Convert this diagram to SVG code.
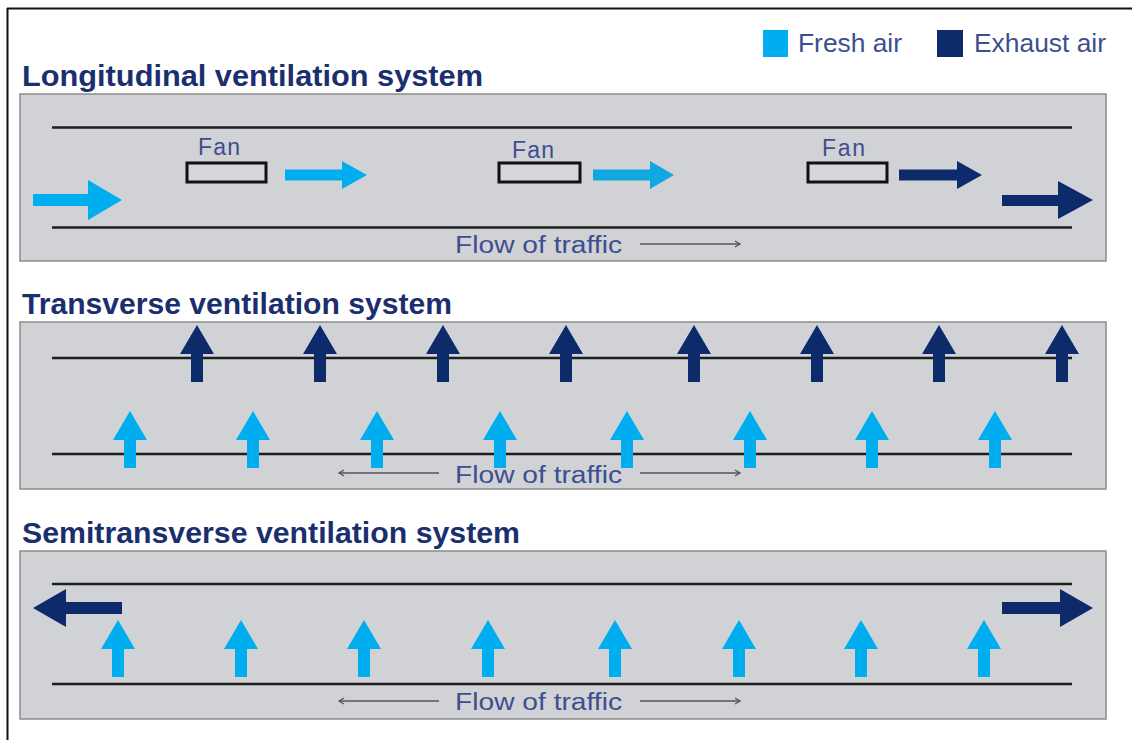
<svg xmlns="http://www.w3.org/2000/svg" xmlns:xlink="http://www.w3.org/1999/xlink" width="1132" height="740" viewBox="0 0 1132 740">
<style>
.title{font-family:"Liberation Sans",Arial,sans-serif;font-weight:bold;font-size:29px;fill:#1b2f6e}
.lbl{font-family:"Liberation Sans",Arial,sans-serif;font-size:23px;fill:#3d4f8e}
.leg{font-family:"Liberation Sans",Arial,sans-serif;font-size:26px;fill:#3d4f8e}
.panel{fill:#d1d2d6;stroke:#8c8c8c;stroke-width:1.5}
.road{stroke:#1e1e1e;stroke-width:2.5}
.fan{fill:#d6d7da;stroke:#111;stroke-width:3}
.flow{stroke:#555;stroke-width:1.5;fill:none}
.fresh{fill:#00aeef}
.fresh2{fill:#10a8de}
.exh{fill:#0d2a6b}
</style>
<defs>
<marker id="tip" markerWidth="8" markerHeight="8" refX="6" refY="4" orient="auto" markerUnits="userSpaceOnUse">
<path d="M1,1 L6,4 L1,7" fill="none" stroke="#555" stroke-width="1.3"/>
</marker>
<path id="up" d="M0,0 L17,29 L6,29 L6,57 L-6,57 L-6,29 L-17,29 Z"/>
</defs>
<rect x="0" y="0" width="1132" height="740" fill="#fff"/>
<g id="frame">
<line x1="7" y1="8.5" x2="1132" y2="8.5" stroke="#111" stroke-width="2"/>
<line x1="7.5" y1="8" x2="7.5" y2="740" stroke="#111" stroke-width="2"/>
</g>
<g id="legend">
<rect x="763" y="30" width="25" height="27" class="fresh"/>
<text x="798" y="52" class="leg" textLength="104" lengthAdjust="spacingAndGlyphs">Fresh air</text>
<rect x="937" y="30" width="26" height="27" class="exh"/>
<text x="974" y="52" class="leg" textLength="132" lengthAdjust="spacingAndGlyphs">Exhaust air</text>
</g>
<g id="longitudinal">
<text x="22" y="86" class="title" textLength="461" lengthAdjust="spacingAndGlyphs">Longitudinal ventilation system</text>
<rect x="20" y="94" width="1086" height="167" class="panel"/>
<line x1="52" y1="127.5" x2="1072" y2="127.5" class="road"/>
<line x1="52" y1="227.5" x2="1072" y2="227.5" class="road"/>
<g id="fan1"><rect x="187" y="163" width="79" height="19" class="fan"/><text x="198" y="155" class="lbl" textLength="42">Fan</text></g>
<g id="fan2"><rect x="499" y="163" width="81" height="19" class="fan"/><text x="512" y="158" class="lbl" textLength="42">Fan</text></g>
<g id="fan3"><rect x="808" y="163" width="79" height="19" class="fan"/><text x="822" y="156" class="lbl" textLength="43">Fan</text></g>
<text x="455" y="253" class="lbl" textLength="167" lengthAdjust="spacingAndGlyphs">Flow of traffic</text>
</g>
<g id="transverse">
<text x="22" y="314" class="title" textLength="430" lengthAdjust="spacingAndGlyphs">Transverse ventilation system</text>
<rect x="20" y="322" width="1086" height="167" class="panel"/>
<line x1="52" y1="358" x2="1072" y2="358" class="road"/>
<line x1="52" y1="454" x2="1072" y2="454" class="road"/>
<text x="455" y="483" class="lbl" textLength="167" lengthAdjust="spacingAndGlyphs">Flow of traffic</text>
</g>
<g id="semitransverse">
<text x="22" y="543" class="title" textLength="498" lengthAdjust="spacingAndGlyphs">Semitransverse ventilation system</text>
<rect x="20" y="551" width="1086" height="168" class="panel"/>
<line x1="52" y1="584" x2="1072" y2="584" class="road"/>
<line x1="52" y1="684" x2="1072" y2="684" class="road"/>
<text x="455" y="710" class="lbl" textLength="167" lengthAdjust="spacingAndGlyphs">Flow of traffic</text>
</g>
<g id="connectors">
<g id="long-arrows">
<path class="fresh" d="M33,194 H88 V180 L122,200 L88,220 V206 H33 Z"/>
<path class="fresh" d="M285,169.5 H342 V161 L367,175 L342,189 V180.5 H285 Z"/>
<path class="fresh2" d="M593,169.5 H650 V161 L674,175 L650,189 V180.5 H593 Z"/>
<path class="exh" d="M899,169.5 H957 V161 L982,175 L957,189 V180.5 H899 Z"/>
<path class="exh" d="M1002,195 H1058 V181 L1093,200 L1058,219 V206 H1002 Z"/>
<line x1="640" y1="244" x2="740" y2="244" class="flow" marker-end="url(#tip)"/>
</g>
<g id="trans-arrows">
<use xlink:href="#up" x="197" y="325" class="exh"/>
<use xlink:href="#up" x="320" y="325" class="exh"/>
<use xlink:href="#up" x="443" y="325" class="exh"/>
<use xlink:href="#up" x="566" y="325" class="exh"/>
<use xlink:href="#up" x="694" y="325" class="exh"/>
<use xlink:href="#up" x="817" y="325" class="exh"/>
<use xlink:href="#up" x="939" y="325" class="exh"/>
<use xlink:href="#up" x="1062" y="325" class="exh"/>
<use xlink:href="#up" x="130" y="411" class="fresh"/>
<use xlink:href="#up" x="253" y="411" class="fresh"/>
<use xlink:href="#up" x="377" y="411" class="fresh"/>
<use xlink:href="#up" x="500" y="411" class="fresh"/>
<use xlink:href="#up" x="627" y="411" class="fresh"/>
<use xlink:href="#up" x="750" y="411" class="fresh"/>
<use xlink:href="#up" x="872" y="411" class="fresh"/>
<use xlink:href="#up" x="995" y="411" class="fresh"/>
<line x1="439" y1="473" x2="339" y2="473" class="flow" marker-end="url(#tip)"/>
<line x1="640" y1="473" x2="740" y2="473" class="flow" marker-end="url(#tip)"/>
</g>
<g id="semi-arrows">
<path class="exh" d="M122,602 H66 V589 L33,608 L66,627 V614 H122 Z"/>
<path class="exh" d="M1002,602 H1060 V589 L1093,608 L1060,627 V614 H1002 Z"/>
<use xlink:href="#up" x="118" y="620" class="fresh"/>
<use xlink:href="#up" x="241" y="620" class="fresh"/>
<use xlink:href="#up" x="364" y="620" class="fresh"/>
<use xlink:href="#up" x="488" y="620" class="fresh"/>
<use xlink:href="#up" x="615" y="620" class="fresh"/>
<use xlink:href="#up" x="739" y="620" class="fresh"/>
<use xlink:href="#up" x="861" y="620" class="fresh"/>
<use xlink:href="#up" x="984" y="620" class="fresh"/>
<line x1="439" y1="701" x2="339" y2="701" class="flow" marker-end="url(#tip)"/>
<line x1="640" y1="701" x2="740" y2="701" class="flow" marker-end="url(#tip)"/>
</g>
</g>
</svg>
